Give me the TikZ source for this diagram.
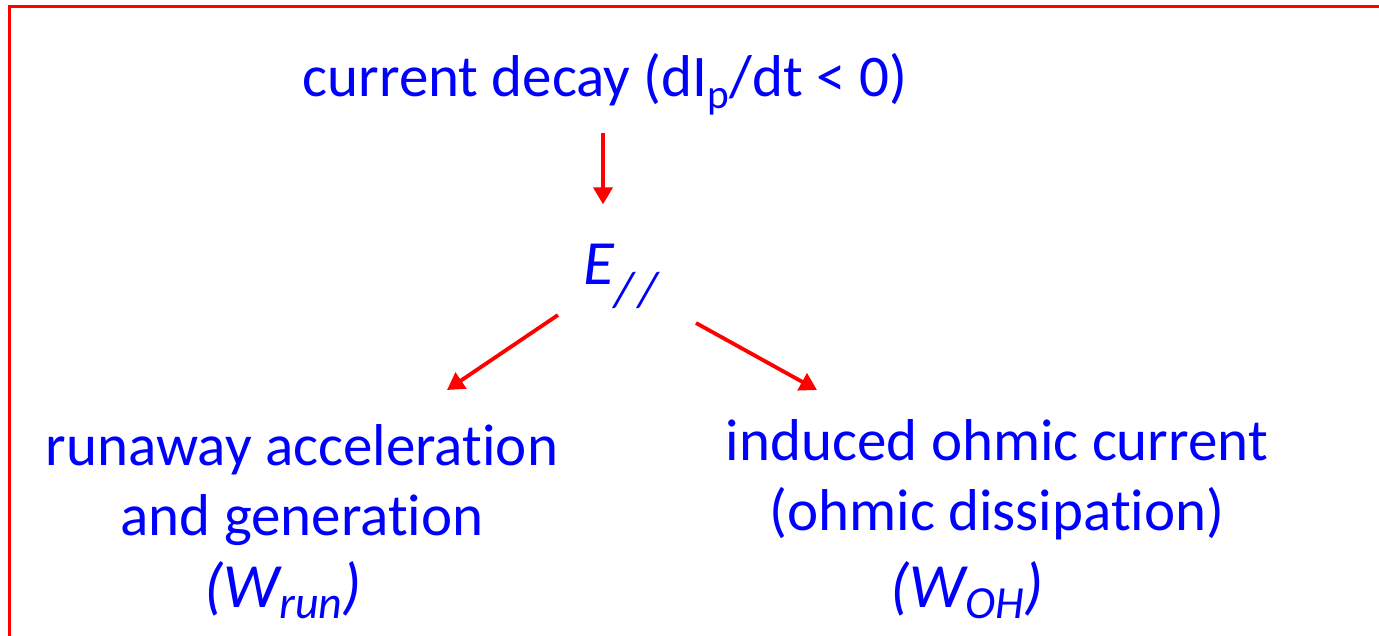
\documentclass[tikz,border=0pt]{standalone}
\usepackage{fontspec}
\setmainfont{Carlito}[Ligatures=NoCommon]
\usetikzlibrary{arrows.meta, positioning}

\definecolor{txtblue}{RGB}{0,0,255}
\newcommand{\lowsub}[3]{\raisebox{#1}{\fontsize{#2}{#2}\selectfont #3}}

\begin{document}
\begin{tikzpicture}[
        x=1pt, y=-1pt,
        lbl/.style={text=txtblue, inner sep=0pt, align=center,
            font=\fontsize{59}{70}\selectfont},
        arr/.style={draw=red, line width=3.8pt, -{Triangle[length=17pt,width=19pt]}}
    ]
        \useasboundingbox (0,0) rectangle (1379,636);
        \clip (0,0) rectangle (1379,636);
        \draw[red, line width=3pt] (9.5,6.5) rectangle (1420,680);

        \node[lbl, anchor=base] (decay) at (605,97) {current decay (dI\textsubscript{p}/dt < 0)};
        \node[lbl, below=188pt of decay.base, anchor=base, xshift=16pt] (efield)
            {\fontsize{63}{70}\selectfont\itshape E\lowsub{-22pt}{50}{/\kern5pt/}};
        \node[lbl, anchor=base] (run) at (302,607)
            {runaway acceleration\\and generation\\[2pt]%
             {\fontsize{63}{70}\selectfont\itshape (W\lowsub{-11pt}{46}{run})}\hspace*{38pt}};
        \node[lbl, anchor=base] (ohm) at (997,607)
            {induced ohmic current\\(ohmic dissipation)\\[7pt]%
             {\fontsize{63}{70}\selectfont\itshape (W\lowsub{-11pt}{46}{OH})}\hspace*{60pt}};

        \coordinate (lout) at (558,315);
        \coordinate (lin) at (447,390);
        \coordinate (rout) at (696,323);
        \coordinate (rin) at (817,390);

        \draw[arr, shorten <=18pt, shorten >=40pt] ([xshift=-2pt]decay.south) -- ([xshift=-2pt]decay.south |- efield.north);
        \draw[arr] (lout) -- (lin);
        \draw[arr] (rout) -- (rin);
    \end{tikzpicture}
\end{document}
